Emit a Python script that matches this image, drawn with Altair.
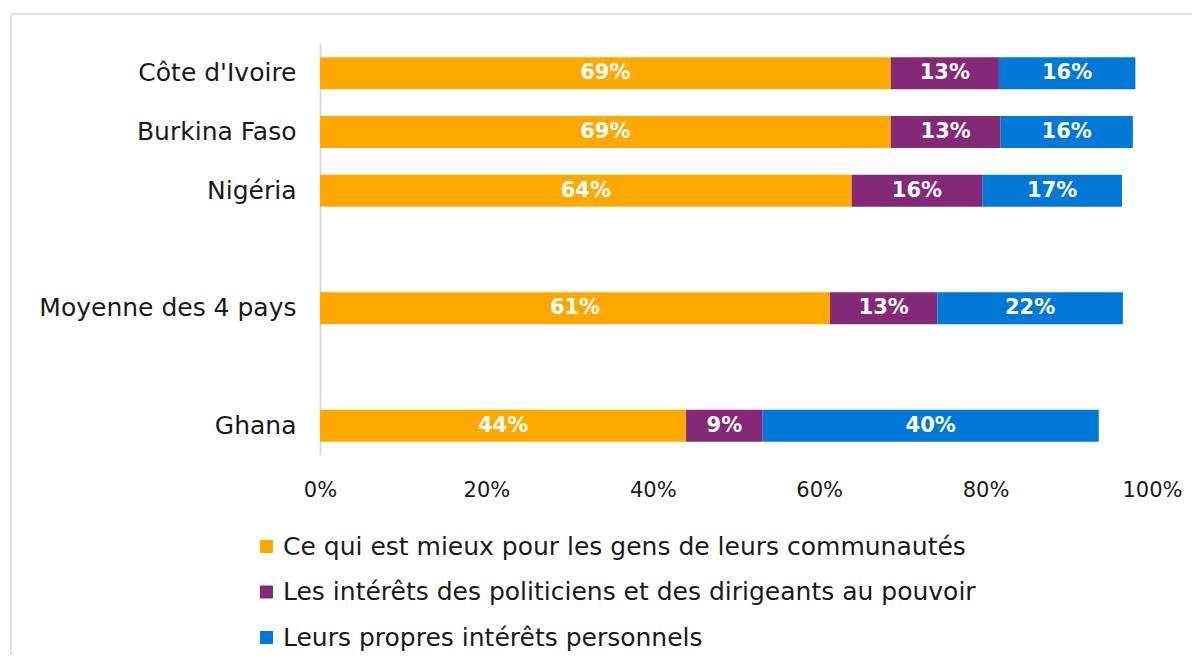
import altair as alt
import pandas as pd

categories = ["Côte d'Ivoire", "Burkina Faso", "Nigéria", "Moyenne des 4 pays", "Ghana"]
row_order = ["Côte d'Ivoire", "Burkina Faso", "Nigéria", " ", "Moyenne des 4 pays", "  ", "Ghana"]
series = [
    "Ce qui est mieux pour les gens de leurs communautés",
    "Les intérêts des politiciens et des dirigeants au pouvoir",
    "Leurs propres intérêts personnels",
]
colors = ["#FFA800", "#842878", "#0078D7"]
communaute = [68.6, 68.6, 63.9, 61.3, 44.0]
politiciens = [13.0, 13.2, 15.7, 12.9, 9.2]
personnels = [16.4, 15.9, 16.8, 22.3, 40.4]
x_ticks = [0, 20, 40, 60, 80, 100]

rows = []
for i, c in enumerate(categories):
    for k, vals in enumerate([communaute, politiciens, personnels]):
        rows.append({"category": c, "series": series[k], "order": k, "value": vals[i]})
df = pd.DataFrame(rows)

FONT = "DejaVu Sans"

y_enc = alt.Y(
    "category:N",
    scale=alt.Scale(domain=row_order, paddingInner=0.455, paddingOuter=0.2275),
    axis=alt.Axis(
        title=None, ticks=False, domainColor="#d9d9d9", domainWidth=2,
        labelFontSize=25, labelColor="#1a1a1a", labelPadding=24, labelFont=FONT,
        labelLimit=400,
    ),
)

base = alt.Chart(df).transform_stack(
    stack="value", groupby=["category"], as_=["x0", "x1"], sort=[alt.SortField("order")]
)

bars = base.mark_bar().encode(
    x=alt.X(
        "x0:Q",
        scale=alt.Scale(domain=[0, 100], nice=False),
        axis=alt.Axis(
            title=None, values=x_ticks, grid=False, ticks=False, domain=False,
            labelExpr="datum.value + '%'", labelFontSize=21, labelColor="#1a1a1a",
            labelPadding=24, labelFont=FONT, labelFlush=False,
        ),
    ),
    x2="x1:Q",
    y=y_enc,
    color=alt.Color(
        "series:N",
        scale=alt.Scale(domain=series, range=colors),
        legend=alt.Legend(
            title=None, orient="none", legendX=-66, legendY=490, direction="vertical",
            symbolType="square", symbolSize=169, symbolStrokeWidth=0,
            labelFontSize=25, labelFont=FONT, labelColor="#1a1a1a", labelOffset=4,
            rowPadding=19.5, labelLimit=900,
        ),
    ),
)

text = base.transform_calculate(
    mid="(datum.x0 + datum.x1) / 2",
    label="format(datum.value, '.0f') + '%'",
).mark_text(color="white", fontWeight="bold", fontSize=21, font=FONT).encode(
    x="mid:Q",
    y=alt.Y("category:N", scale=alt.Scale(domain=row_order)),
    text="label:N",
)

frame_left = alt.Chart(df).mark_rule(color="#e2e2e2", strokeWidth=2).encode(
    x=alt.value(-309), y=alt.value(-30), y2=alt.value(620)
)
frame_top = alt.Chart(df).mark_rule(color="#e2e2e2", strokeWidth=2).encode(
    x=alt.value(-309), x2=alt.value(880), y=alt.value(-30)
)

chart = alt.layer(frame_left, frame_top, bars, text).properties(
    width=832, height=411,
    background="white",
    autosize=alt.AutoSizeParams(type="none"),
    padding={"left": 312, "top": 36, "right": 40, "bottom": 200},
).configure_view(strokeWidth=0, stroke="transparent")

chart.save("out.html", embed_options={"renderer": "svg", "actions": False})
